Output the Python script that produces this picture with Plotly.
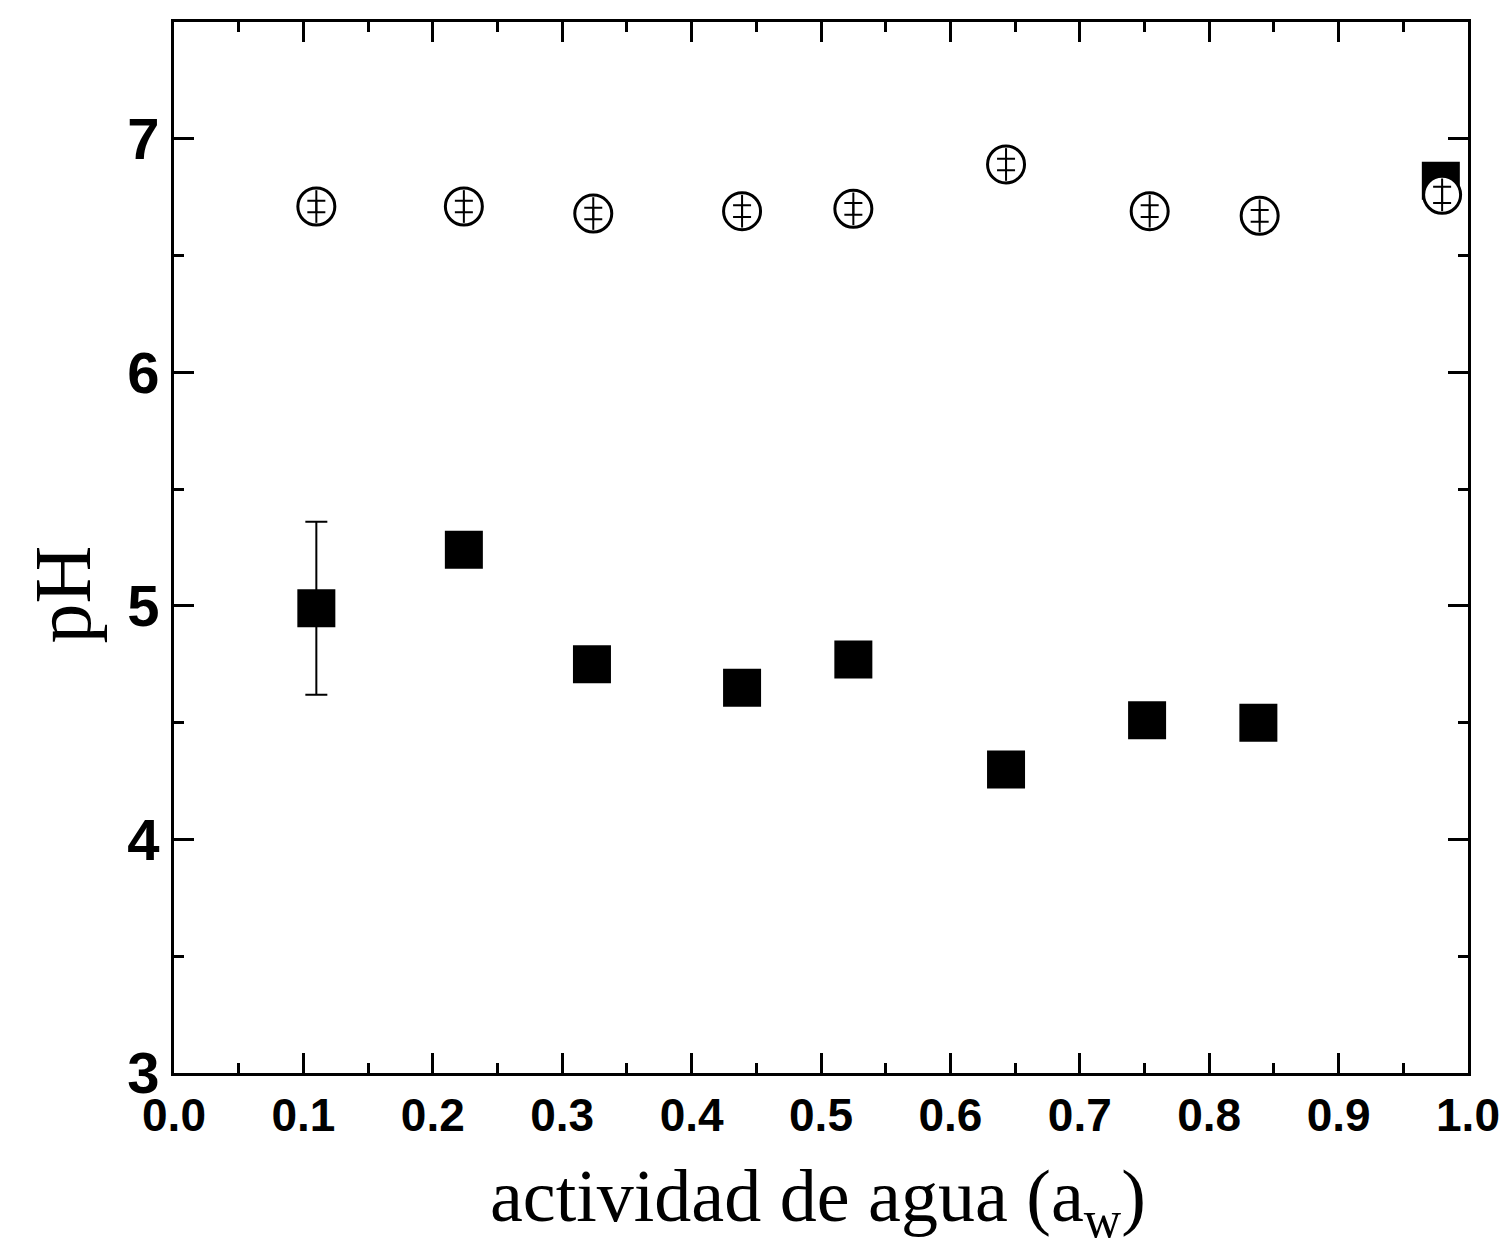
import plotly.graph_objects as go

aw_circ = [0.110, 0.224, 0.324, 0.439, 0.525, 0.643, 0.754, 0.839, 0.980]
ph_circ = [6.71, 6.71, 6.68, 6.69, 6.70, 6.89, 6.69, 6.67, 6.76]
err_circ = [0.025, 0.025, 0.025, 0.025, 0.025, 0.025, 0.025, 0.025, 0.035]
stem_circ = [0.07, 0.07, 0.07, 0.07, 0.07, 0.07, 0.07, 0.07, 0.07]

aw_sq = [0.110, 0.224, 0.323, 0.439, 0.525, 0.643, 0.752, 0.838, 0.979]
ph_sq = [4.99, 5.24, 4.75, 4.65, 4.77, 4.30, 4.51, 4.50, 6.82]
err_sq = [0.37, 0, 0, 0, 0, 0, 0, 0, 0]

x_ticks = [0.0, 0.1, 0.2, 0.3, 0.4, 0.5, 0.6, 0.7, 0.8, 0.9, 1.0]
x_labels = ["0.0", "0.1", "0.2", "0.3", "0.4", "0.5", "0.6", "0.7", "0.8", "0.9", "1.0"]
y_ticks = [3, 4, 5, 6, 7]

fig = go.Figure()
fig.add_trace(go.Scatter(
    x=aw_sq, y=ph_sq, mode="markers",
    marker=dict(symbol="square", size=38, color="black"),
    error_y=dict(type="data", array=err_sq, color="black", thickness=2, width=11),
    cliponaxis=False, showlegend=False))
fig.add_trace(go.Scatter(
    x=aw_circ, y=ph_circ, mode="markers",
    marker=dict(symbol="circle", size=37, color="white", line=dict(color="black", width=3)),
    cliponaxis=False, showlegend=False))
# vertical stem through each circle
fig.add_trace(go.Scatter(
    x=aw_circ, y=ph_circ, mode="markers",
    marker=dict(symbol="circle", size=2, color="rgba(0,0,0,0)"),
    error_y=dict(type="data", array=stem_circ, color="black", thickness=2, width=0),
    cliponaxis=False, showlegend=False, hoverinfo="skip"))
# error bars of the circles drawn on top of the white-filled circles
fig.add_trace(go.Scatter(
    x=aw_circ, y=ph_circ, mode="markers",
    marker=dict(symbol="circle", size=2, color="rgba(0,0,0,0)"),
    error_y=dict(type="data", array=err_circ, color="black", thickness=2, width=9),
    cliponaxis=False, showlegend=False, hoverinfo="skip"))

axis_common = dict(showline=True, linecolor="black", linewidth=3, mirror="ticks",
                   ticks="inside", ticklen=20, tickwidth=3, tickcolor="black",
                   showgrid=False, zeroline=False)
fig.update_xaxes(range=[0, 1.0], tickvals=x_ticks, ticktext=x_labels,
                 tickfont=dict(family="Liberation Sans", size=46, color="black", weight="bold"),
                 minor=dict(ticks="inside", ticklen=10, tickwidth=3, tickcolor="black", dtick=0.05),
                 **axis_common)
fig.update_yaxes(range=[3, 7.5], tickvals=y_ticks,
                 tickfont=dict(family="Liberation Sans", size=58, color="black", weight="bold"),
                 minor=dict(ticks="inside", ticklen=10, tickwidth=3, tickcolor="black", dtick=0.5),
                 **axis_common)

fig.add_annotation(text="actividad de agua (a<sub>w</sub>)", xref="paper", yref="paper",
                   x=0.498, y=-0.122, xanchor="center", yanchor="middle", showarrow=False,
                   font=dict(family="Liberation Serif", size=74, color="black"))
fig.add_annotation(text="pH", xref="paper", yref="paper",
                   x=-0.086, y=0.455, xanchor="center", yanchor="middle", showarrow=False,
                   textangle=-90,
                   font=dict(family="Liberation Serif", size=80, color="black"))

fig.update_layout(width=1507, height=1258, margin=dict(l=166, r=47, t=14, b=193),
                  plot_bgcolor="white", paper_bgcolor="white")
fig.write_html("out.html")
